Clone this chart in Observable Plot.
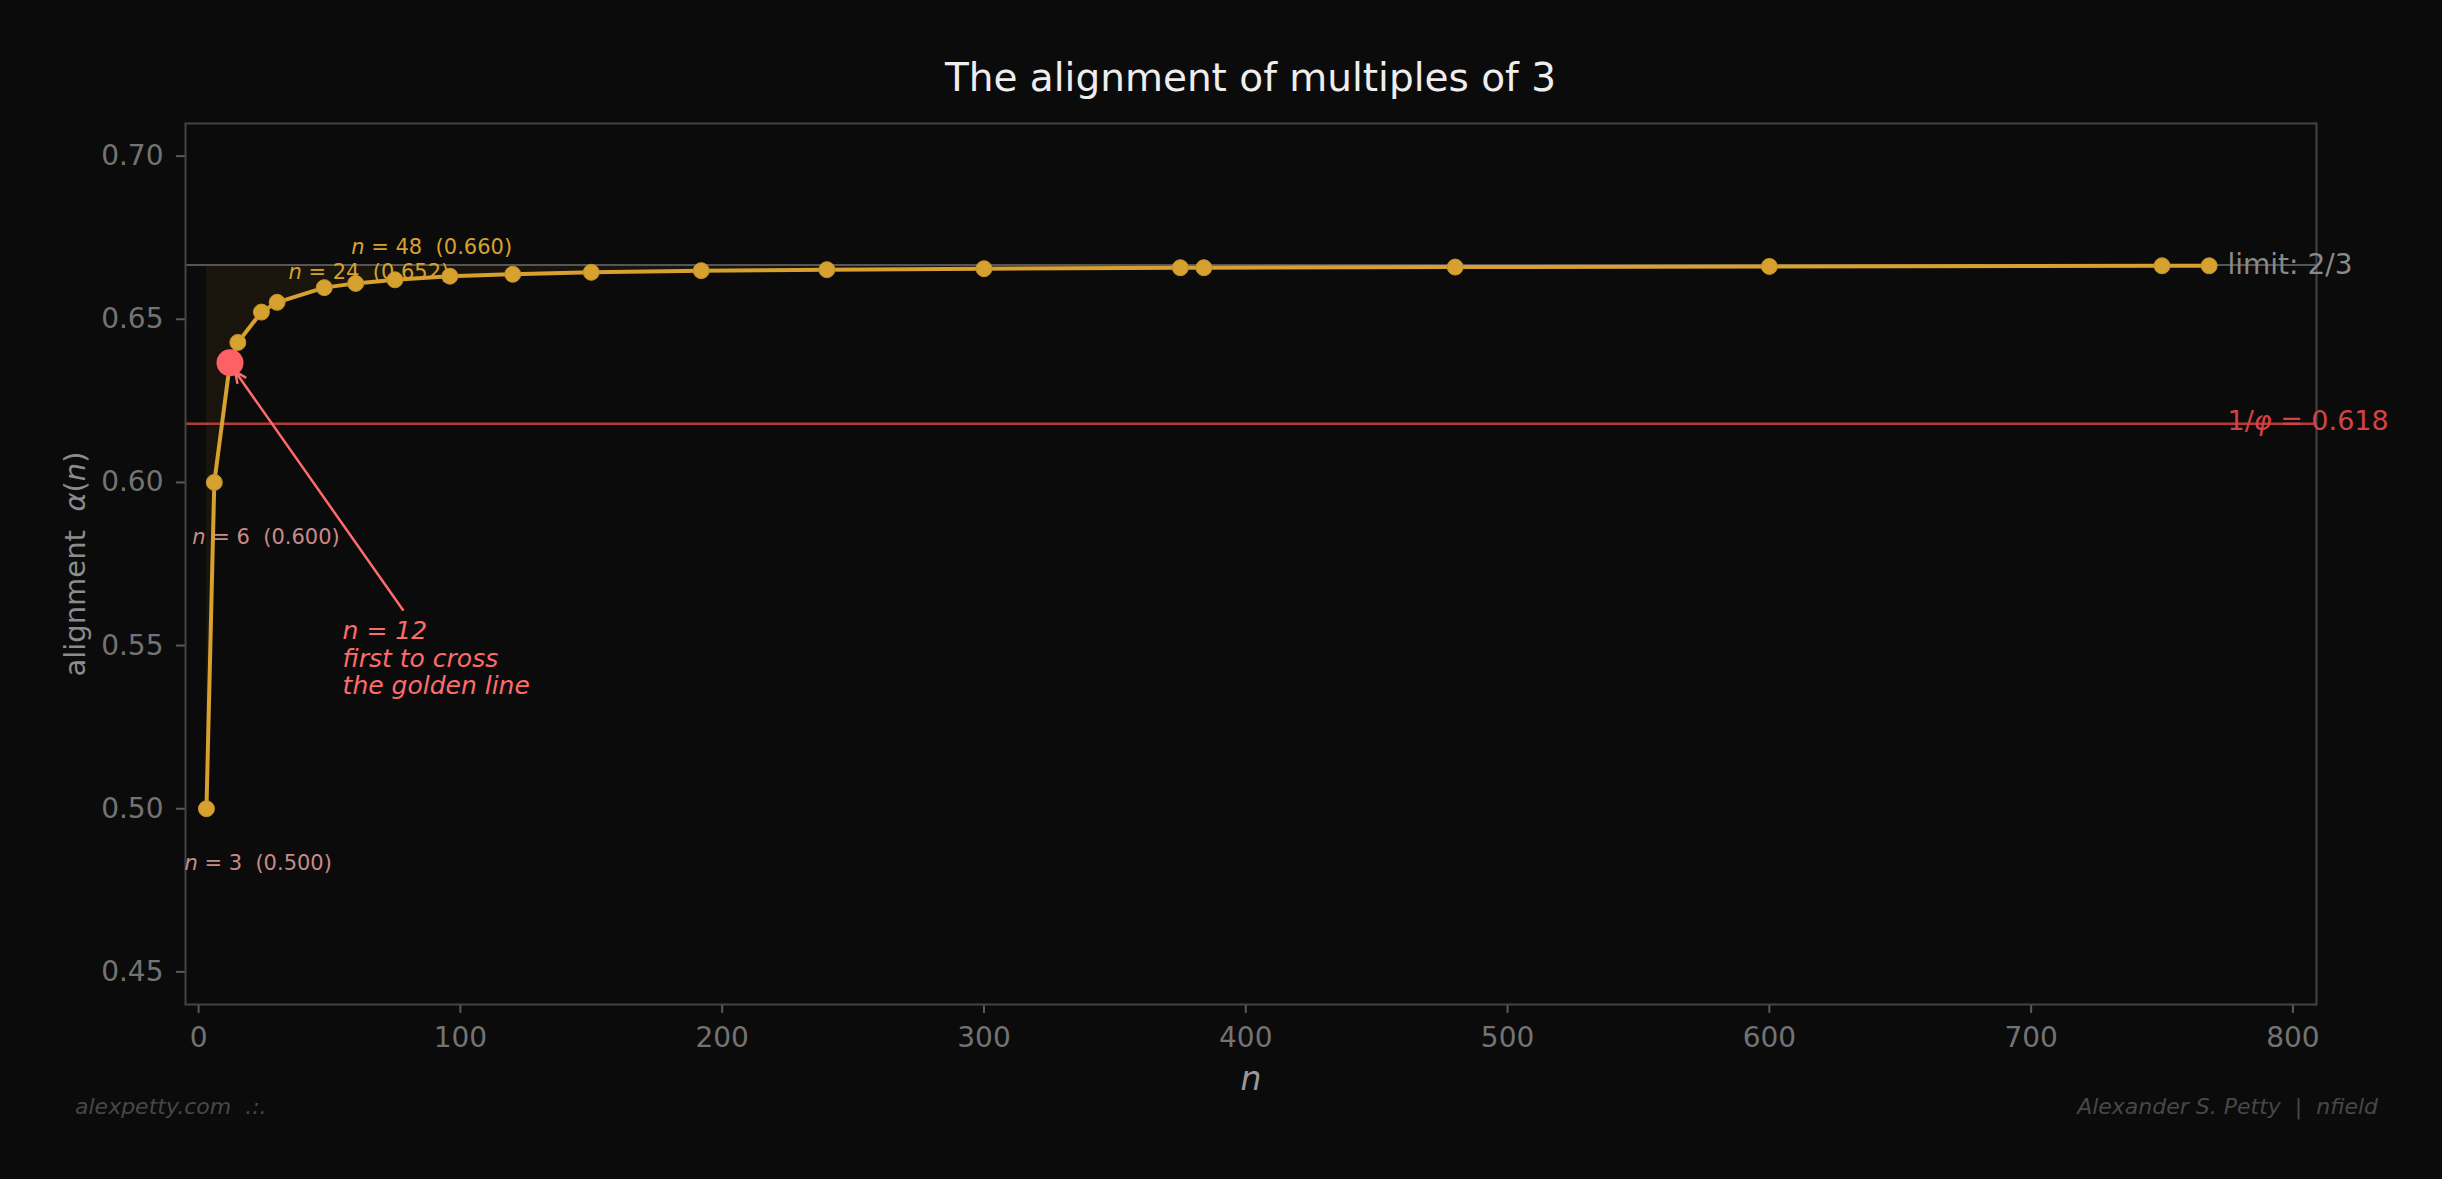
<!DOCTYPE html>
<html>
<head>
<meta charset="utf-8">
<script src="https://cdn.jsdelivr.net/npm/d3@7"></script>
<script src="https://cdn.jsdelivr.net/npm/@observablehq/plot@0.6"></script>
<style>
  html, body { margin: 0; padding: 0; background: #0b0b0b; overflow: hidden; }
  body { position: relative; width: 2442px; height: 1179px; font-family: "DejaVu Sans", sans-serif; }
  #title { box-sizing: border-box; height: 100px; padding-top: 55px; margin-left: 185px; width: 2131px;
           text-align: center; color: #eeeeee; font-size: 39px; line-height: normal; white-space: pre; }
  #chart svg { display: block; }
  #footer { position: absolute; top: 1094px; left: 0; width: 2442px; height: 60px;
            font-size: 22px; font-style: italic; color: #474747; white-space: pre; line-height: normal; }
  #footer .l { position: absolute; left: 75px; }
  #footer .r { position: absolute; right: 64px; }
</style>
</head>
<body>
<div id="title">The alignment of multiples of 3</div>
<div id="chart"></div>
<div id="footer"><span class="l">alexpetty.com  .:.</span><span class="r">Alexander S. Petty  |  nfield</span></div>
<script>
// ---- data ----
const nValues = [3, 6, 12, 15, 24, 30, 48, 60, 75, 96, 120, 150, 192, 240, 300, 375, 384, 480, 600, 750, 768];
const alphaValues = [0.500, 0.600, 0.6367, 0.6429, 0.6522, 0.6552, 0.6597, 0.6610, 0.6621, 0.6632, 0.6638,
                     0.6644, 0.6649, 0.6652, 0.6655, 0.6658, 0.6658, 0.6660, 0.6662, 0.6664, 0.6664];
const limitValue = 2 / 3;
const goldenValue = 0.618;
const xTicks = [0, 100, 200, 300, 400, 500, 600, 700, 800];
const yTicks = [0.45, 0.50, 0.55, 0.60, 0.65, 0.70];

// labelled points
const lowLabelN = [3, 6];
const lowLabelText = ["n = 3  (0.500)", "n = 6  (0.600)"];
const highLabelN = [24, 48];
const highLabelText = ["n = 24  (0.652)", "n = 48  (0.660)"];
const highlightN = [12];
const calloutText = ["n = 12\nfirst to cross\nthe golden line"];
const calloutTextN = [55];
const calloutTextA = [0.5462];
const arrowFromN = [78], arrowFromA = [0.561];
const arrowToN = [14], arrowToA = [0.634];
const refLabelN = 775;

const data = nValues.map((n, i) => ({n, a: alphaValues[i]}));
const pick = ns => ns.map(n => data.find(d => d.n === n));
const lowLabels = pick(lowLabelN).map((d, i) => ({...d, text: lowLabelText[i]}));
const highLabels = pick(highLabelN).map((d, i) => ({...d, text: highLabelText[i]}));
const highlight = pick(highlightN);
const callout = calloutText.map((t, i) => ({n: calloutTextN[i], a: calloutTextA[i], text: t}));
const arrows = arrowFromN.map((n, i) => ({x1: n, y1: arrowFromA[i], x2: arrowToN[i], y2: arrowToA[i]}));

const gold = "#d6a12f";
const font = "DejaVu Sans";

const plot = Plot.plot({
  width: 2442,
  height: 1000,
  marginLeft: 185,
  marginRight: 126,
  marginTop: 23,
  marginBottom: 96,
  style: {background: "#0b0b0b", fontFamily: font, color: "#737373", overflow: "visible"},
  x: {domain: [-5, 809]},
  y: {domain: [0.44, 0.71]},
  marks: [
    Plot.areaY(data, {x: "n", y1: "a", y2: () => limitValue, fill: gold, fillOpacity: 0.07, curve: "linear"}),
    Plot.ruleY([limitValue], {stroke: "#555555", strokeWidth: 2}),
    Plot.ruleY([goldenValue], {stroke: "#b23a3a", strokeWidth: 2.5}),
    Plot.axisX({ticks: xTicks, tickSize: 9, tickPadding: 14, fontSize: 28, fill: "#737373", stroke: "#5a5a5a", strokeWidth: 2, label: null, tickFormat: d => String(d)}),
    Plot.axisY({ticks: yTicks, tickSize: 9, tickPadding: 13, fontSize: 28, fill: "#737373", stroke: "#5a5a5a", strokeWidth: 2, label: null, tickFormat: d3.format(".2f")}),
    Plot.frame({stroke: "#444444", strokeWidth: 2}),
    Plot.line(data, {x: "n", y: "a", stroke: gold, strokeWidth: 4}),
    Plot.dot(data, {x: "n", y: "a", r: 8, fill: gold, stroke: "#c4922a", strokeWidth: 1}),
    Plot.dot(highlight, {x: "n", y: "a", r: 13.5, fill: "#ff6066"}),
    Plot.arrow(arrows, {x1: "x1", y1: "y1", x2: "x2", y2: "y2", stroke: "#ff6b6b", strokeWidth: 2.5, headLength: 7, headAngle: 50, bend: false}),
    Plot.text(lowLabels, {x: "n", y: "a", text: "text", textAnchor: "start", dx: -22, dy: 55, fontSize: 21, fill: "#c98a8a"}),
    Plot.text(highLabels, {x: "n", y: "a", text: "text", textAnchor: "start", dx: 27, dy: -40, fontSize: 21, fill: gold}),
    Plot.text(callout, {x: "n", y: "a", text: "text", textAnchor: "start", lineHeight: 1.1, fontSize: 25, fontStyle: "italic", fill: "#ff6b6b"}),
    Plot.text(["limit: 2/3"], {x: refLabelN, y: limitValue, textAnchor: "start", fontSize: 28, fill: "#8a8a8a"}),
    Plot.text(["1/φ = 0.618"], {x: refLabelN, y: goldenValue, textAnchor: "start", dy: -2, fontSize: 27, fill: "#d24343"}),
    Plot.text(["n"], {frameAnchor: "bottom", textAnchor: "middle", lineAnchor: "middle", dy: 75, fontSize: 33, fontStyle: "italic", fill: "#999999"}),
    Plot.text(["alignment  α(n)"], {frameAnchor: "left", textAnchor: "middle", lineAnchor: "middle", dx: -110, rotate: -90, fontSize: 29, fill: "#8c8c8c"})
  ]
});

// italicize math symbols (n, α, φ) like matplotlib mathtext
function richify(el) {
  const leaves = el.querySelectorAll("tspan").length ? Array.from(el.querySelectorAll("tspan")) : [el];
  for (const leaf of leaves) {
    const s = leaf.textContent;
    if (!/(\bn\b|α|φ)/.test(s)) continue;
    leaf.textContent = "";
    for (const part of s.split(/(\bn\b|α|φ)/)) {
      if (!part) continue;
      if (/^(n|α|φ)$/.test(part)) {
        const t = document.createElementNS("http://www.w3.org/2000/svg", "tspan");
        t.setAttribute("font-style", "italic");
        t.textContent = part;
        leaf.appendChild(t);
      } else {
        leaf.appendChild(document.createTextNode(part));
      }
    }
  }
}
plot.querySelectorAll("text").forEach(t => { t.setAttribute("xml:space", "preserve"); t.style.whiteSpace = "pre"; richify(t); });

document.getElementById("chart").appendChild(plot);
</script>
</body>
</html>
